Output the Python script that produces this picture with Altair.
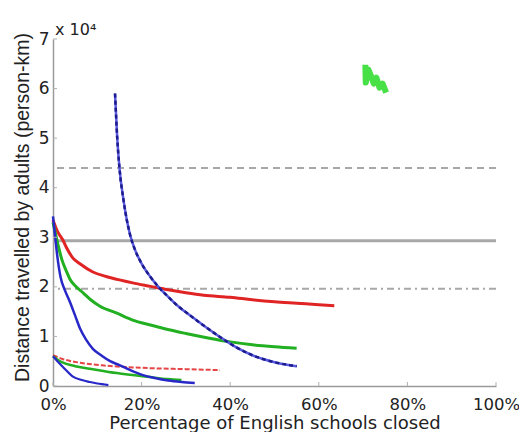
import altair as alt
import pandas as pd

# x: fraction of English schools closed, y: person-km
red_x = [0, .01, .022, .03, .045, .06, .09, .12, .15, .18, .22, .26, .30, .34, .40, .45, .50, .55, .60, .635]
red_y = [33500, 31200, 29500, 28000, 25800, 24700, 23000, 22100, 21400, 20800, 20100, 19400, 18800, 18300, 17900, 17400, 17000, 16700, 16400, 16200]

green_x = [0, .01, .02, .03, .038, .05, .068, .085, .106, .144, .18, .22, .25, .30, .35, .40, .45, .50, .55]
green_y = [33000, 29000, 25500, 23200, 21600, 20200, 18800, 17400, 16100, 14700, 13300, 12300, 11600, 10600, 9700, 8900, 8300, 7900, 7600]

blue_x = [0, .005, .01, .017, .027, .038, .05, .061, .075, .09, .11, .129, .15, .167, .185, .203, .23, .26, .29, .32]
blue_y = [34200, 30000, 26000, 22000, 19300, 17000, 14200, 11600, 9300, 7500, 6100, 5000, 4200, 3500, 2800, 2200, 1600, 1100, 800, 600]

bluedash_x = [.14, .145, .15, .159, .174, .185, .20, .22, .24, .26, .28, .31, .34, .38, .41, .45, .50, .55]
bluedash_y = [59000, 50000, 44000, 37600, 30500, 27500, 24700, 22000, 19800, 18000, 16300, 14200, 12200, 9700, 8000, 6200, 4800, 4000]

redlow_x = [0, .02, .068, .12, .219, .30, .377]
redlow_y = [6200, 5500, 4600, 4100, 3600, 3400, 3200]

greenlow_x = [0, .02, .05, .083, .144, .219, .26, .29]
greenlow_y = [6000, 4800, 4000, 3500, 2600, 1800, 1400, 1200]

bluelow_x = [0, .01, .023, .045, .065, .083, .10, .117, .125]
bluelow_y = [6000, 5000, 3800, 1900, 1200, 800, 500, 300, 200]

blob_x = [.705, .706, .712, .718, .724, .730, .737, .744, .752]
blob_y = [64800, 61200, 63800, 62500, 61000, 62200, 60200, 61000, 59200]

hline_dashed = [44000]
hline_solid = [29300]
hline_dashdot = [19600]

x_ticks = [0, .2, .4, .6, .8, 1.0]
y_ticks = [0, 10000, 20000, 30000, 40000, 50000, 60000, 70000]

FONT = "DejaVu Sans"


def frame(xs, ys):
    return pd.DataFrame({"x": xs, "y": ys})


def X():
    return alt.X("x:Q", scale=alt.Scale(domain=[0, 1], nice=False, zero=False),
                 axis=alt.Axis(values=x_ticks, format=".0%", title="Percentage of English schools closed",
                               labelPadding=10, titlePadding=2, labelFlush=False, labelFontSize=16.5,
                               titleFontSize=18))


def Y():
    return alt.Y("y:Q", scale=alt.Scale(domain=[0, 70000], nice=False),
                 axis=alt.Axis(values=y_ticks, labelExpr="datum.value / 10000",
                               title="Distance travelled by adults (person-km)",
                               labelPadding=4, titlePadding=6, labelFlush=False,
                               titleFont="Liberation Sans", titleFontSize=19.5, titleY=168))


def line(xs, ys, color, width, dash=None, opacity=1.0):
    kw = dict(color=color, strokeWidth=width, opacity=opacity, interpolate="monotone")
    if dash:
        kw["strokeDash"] = dash
    return alt.Chart(frame(xs, ys)).mark_line(**kw).encode(x=X(), y=Y(), order="x:Q")


def hrule(vals, width, dash=None):
    kw = dict(color="#a8a8a8", strokeWidth=width)
    if dash:
        kw["strokeDash"] = dash
    return alt.Chart(pd.DataFrame({"y": vals})).mark_rule(**kw).encode(y=Y())


RED = "#e02424"
GREEN = "#22b022"
BLUE = "#2828c8"

layers = [
    hrule(hline_dashed, 2, [7, 5]),
    hrule(hline_solid, 3),
    hrule(hline_dashdot, 2, [7, 4, 2, 4]),
    line(redlow_x, redlow_y, RED, 2, [5, 2], 0.85),
    line(greenlow_x, greenlow_y, GREEN, 2.5),
    line(bluelow_x, bluelow_y, BLUE, 2.2),
    line(red_x, red_y, RED, 3),
    line(green_x, green_y, GREEN, 3),
    line(blue_x, blue_y, BLUE, 2.5),
    line(bluedash_x, bluedash_y, "#5a5ae0", 2.5),
    line(bluedash_x, bluedash_y, "#1c1c8c", 2.5, [4, 3]),
    alt.Chart(frame(blob_x, blob_y)).mark_line(color="#33dd33", strokeWidth=6, opacity=0.9,
                                               strokeJoin="round").encode(x=X(), y=Y(), order="x:Q"),
    alt.Chart(pd.DataFrame({"x": x_ticks})).mark_rule(color="#b0b0b0", strokeWidth=1).encode(
        x=X(), y=alt.value(347), y2=alt.value(343)),
    alt.Chart(pd.DataFrame({"y": y_ticks})).mark_rule(color="#b0b0b0", strokeWidth=1).encode(
        y=Y(), x=alt.value(0), x2=alt.value(4)),
]

chart = alt.layer(*layers).properties(
    width=443,
    height=347,
    autosize=alt.AutoSizeParams(type="none"),
    padding={"left": 45, "top": 31, "right": 23, "bottom": 46},
    title=alt.TitleParams(text="x 10⁴", anchor="start", frame="group", fontSize=16, font=FONT,
                          fontWeight="normal", color="#222222", offset=6, dx=2, dy=14),
).configure_view(stroke=None).configure_axis(
    grid=False,
    ticks=False,
    domainColor="#9a9a9a",
    domainWidth=1.5,
    labelFont=FONT,
    labelFontSize=17,
    labelColor="#222222",
    titleFont=FONT,
    titleFontSize=18,
    titleFontWeight="normal",
    titleColor="#222222",
)

chart.save("out.html", embed_options={"renderer": "svg", "actions": False})
